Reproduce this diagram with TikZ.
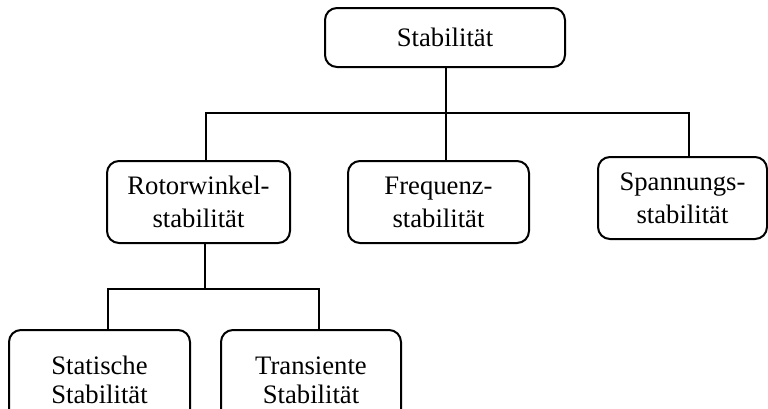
\documentclass[tikz,border=0pt]{standalone}
\usepackage{fontspec}
\setmainfont{Liberation Serif}
\begin{document}
\begin{tikzpicture}[x=0.75pt,y=-0.75pt,
  box/.style={draw,line width=1.5pt,rounded corners=9pt,inner sep=0pt,
    align=center,font=\fontsize{20pt}{24.75pt}\selectfont},
  lowbox/.style={box,font=\fontsize{20pt}{21.8pt}\selectfont},
  conn/.style={line width=2.1pt}]
\useasboundingbox (0,0) rectangle (768,408);
% boxes (sizes in px, 1px = 0.75pt)
\node[box,minimum width=180pt,minimum height=44.25pt] (top) at (445,37.5) {Stabilität};
\node[box,minimum width=137.25pt,minimum height=61.5pt] (rot) at (198.5,202) {Rotorwinkel-\\stabilität};
\node[box,minimum width=135.75pt,minimum height=61.5pt] (freq) at (438.5,202) {Frequenz-\\stabilität};
\node[box,minimum width=126.75pt,minimum height=61.5pt] (span) at (682.5,198) {Spannungs-\\stabilität};
\node[lowbox,minimum width=135.75pt,minimum height=75pt] (stat) at (99.5,380) {Statische\\Stabilität};
\node[lowbox,minimum width=135pt,minimum height=75pt] (trans) at (311,380) {Transiente\\Stabilität};
% bus junctions
\coordinate (busL) at (206,113);
\coordinate (busM) at (446,113);
\coordinate (busR) at (689,113);
\coordinate (subL) at (108,289);
\coordinate (subM) at (205,289);
\coordinate (subR) at (319,289);
% upper tree
\draw[conn] (top.south -| busM) -- (busM);
\draw[conn] (rot.north -| busL) -- (busL) -- (busR) -- (span.north -| busR);
\draw[conn] (busM) -- (freq.north -| busM);
% lower tree
\draw[conn] (rot.south -| subM) -- (subM);
\draw[conn] (stat.north -| subL) -- (subL) -- (subR) -- (trans.north -| subR);
\end{tikzpicture}
\end{document}
